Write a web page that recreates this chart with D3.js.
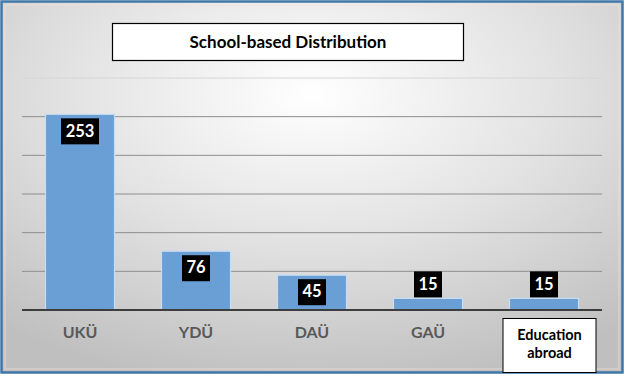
<!DOCTYPE html>
<html>
  <head>
    <meta charset="utf-8">
    <title>School-based Distribution</title>
    <script src="https://d3js.org/d3.v7.min.js"></script>
    <style>
      body { margin: 0; background: #fff; }
      text { font-family: Lato, "Open Sans", sans-serif; }
    </style>
  </head>
  <body>
    <svg width="625" height="376"></svg>

    <script>
      // chart data
      const categories = ["UKÜ", "YDÜ", "DAÜ", "GAÜ", "Education abroad"];
      const values = [253, 76, 45, 15, 15];
      const yTicks = [0, 50, 100, 150, 200, 250, 300];
      const title = "School-based Distribution";

      const svg = d3.select("svg");

      // background gradient
      const defs = svg.append("defs");
      const grad = defs.append("radialGradient")
        .attr("id", "bg")
        .attr("cx", "50%").attr("cy", "25%").attr("r", "80%");
      grad.append("stop").attr("offset", "0%").attr("stop-color", "#ffffff");
      grad.append("stop").attr("offset", "50%").attr("stop-color", "#e2e2e2");
      grad.append("stop").attr("offset", "100%").attr("stop-color", "#bfbfbf");

      svg.append("rect")
        .attr("x", 1.5).attr("y", 1.5)
        .attr("width", 621).attr("height", 371)
        .attr("fill", "url(#bg)")
        .attr("stroke", "#3f77a8")
        .attr("stroke-width", 2.5);

      // faint inner edge
      svg.append("rect")
        .attr("x", 5).attr("y", 5)
        .attr("width", 614).attr("height", 364)
        .attr("fill", "none")
        .attr("stroke", "#f3e4d8")
        .attr("stroke-width", 1)
        .attr("opacity", 0.7);

      // scales
      const x = d3.scaleBand()
        .domain(categories)
        .range([22, 602])
        .paddingInner(0.405)
        .paddingOuter(0.2025);

      const y = d3.scaleLinear()
        .domain([0, 300])
        .range([310, 78]);

      // gridlines
      svg.append("g")
        .selectAll("line")
        .data(yTicks.filter(d => d > 0))
        .enter()
        .append("line")
          .attr("x1", 22).attr("x2", 602)
          .attr("y1", d => y(d)).attr("y2", d => y(d))
          .attr("stroke", d => d === 300 ? "#d6d6d6" : "#8e8e8e")
          .attr("stroke-width", 1);

      // bars
      svg.append("g")
        .selectAll("rect")
        .data(values)
        .enter()
        .append("rect")
          .attr("x", (d, i) => x(categories[i]))
          .attr("y", d => y(d))
          .attr("width", x.bandwidth())
          .attr("height", d => y(0) - y(d))
          .attr("fill", "#6a9fd6")
          .attr("stroke", "#c5dcf2")
          .attr("stroke-width", 1.2);

      // baseline
      svg.append("line")
        .attr("x1", 22).attr("x2", 602)
        .attr("y1", y(0)).attr("y2", y(0))
        .attr("stroke", "#3d3d3d")
        .attr("stroke-width", 2.2);

      // data labels in black boxes
      const labels = svg.append("g").selectAll("g")
        .data(values)
        .enter()
        .append("g");

      labels.each(function(d, i) {
        const g = d3.select(this);
        const cx = x(categories[i]) + x.bandwidth() / 2;
        const boxH = 26;
        const boxW = String(d).length > 2 ? 38 : 28;
        const barH = y(0) - y(d);
        const top = barH > boxH + 6 ? y(d) + 4 : y(d) - boxH - 1;
        g.append("rect")
          .attr("x", cx - boxW / 2).attr("y", top)
          .attr("width", boxW).attr("height", boxH)
          .attr("fill", "#000");
        g.append("text")
          .attr("x", cx).attr("y", top + boxH / 2 + 1)
          .attr("text-anchor", "middle")
          .attr("dominant-baseline", "middle")
          .attr("fill", "#fff")
          .attr("font-weight", "bold")
          .attr("font-size", "16.5px")
          .text(d);
      });

      // category labels
      categories.forEach(function(c, i) {
        const cx = x(c) + x.bandwidth() / 2;
        if (c === "Education abroad") {
          svg.append("rect")
            .attr("x", 503).attr("y", 318.5)
            .attr("width", 93).attr("height", 54)
            .attr("fill", "#fff")
            .attr("stroke", "#000")
            .attr("stroke-width", 1);
          const t = svg.append("text")
            .attr("x", 549.5).attr("y", 340)
            .attr("text-anchor", "middle")
            .attr("fill", "#000")
            .attr("font-weight", "bold")
            .attr("font-size", "14.5px");
          t.append("tspan").attr("x", 549.5).attr("dy", 0).text("Education");
          t.append("tspan").attr("x", 549.5).attr("dy", 18).text("abroad");
        } else {
          svg.append("text")
            .attr("x", cx).attr("y", 338)
            .attr("text-anchor", "middle")
            .attr("fill", "#595959")
            .attr("font-weight", "bold")
            .attr("font-size", "16px")
            .text(c);
        }
      });

      // title box
      svg.append("rect")
        .attr("x", 112.5).attr("y", 23.5)
        .attr("width", 351).attr("height", 37)
        .attr("fill", "#fff")
        .attr("stroke", "#000")
        .attr("stroke-width", 1.2);

      svg.append("text")
        .attr("x", 288).attr("y", 48)
        .attr("text-anchor", "middle")
        .attr("fill", "#000")
        .attr("font-weight", "bold")
        .attr("font-size", "17px")
        .text(title);
    </script>
  </body>
</html>
